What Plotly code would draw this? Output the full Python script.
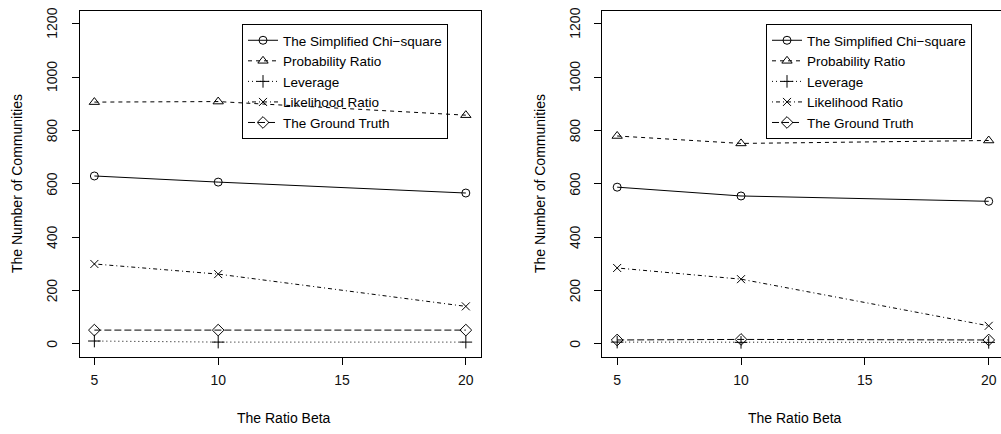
import plotly.graph_objects as go

# Ratio beta on the x axis
beta = [5, 10, 20]

series_names = [
    "The Simplified Chi\u2212square",
    "Probability Ratio",
    "Leverage",
    "Likelihood Ratio",
    "The Ground Truth",
]

# Left panel: number of communities per method
chi_left = [629, 606, 565]
prob_left = [906, 908, 857]
lev_left = [10, 6, 6]
lik_left = [299, 261, 140]
truth_left = [51, 51, 51]

# Right panel
chi_right = [587, 554, 534]
prob_right = [779, 751, 762]
lev_right = [6, 5, 5]
lik_right = [284, 242, 67]
truth_right = [14, 16, 14]

y_ticks = [0, 200, 400, 600, 800, 1000, 1200]
x_ticks = [5, 10, 15, 20]

# R-like line types and plotting symbols
dashes = ["solid", "4px,4px", "1px,3px", "1px,3px,4px,3px", "7px,3px"]
symbols = ["circle-open", "triangle-up-open", "cross-thin-open", "x-thin-open", "diamond-open"]
sizes = [8, 9, 9, 8, 9]

FONT = "Liberation Sans, Arial, sans-serif"
FS = 14
W, H = 1001, 434

fig = go.Figure()

panels = [
    ([chi_left, prob_left, lev_left, lik_left, truth_left], "x", "y", "legend"),
    ([chi_right, prob_right, lev_right, lik_right, truth_right], "x2", "y2", "legend2"),
]
for values, xa, ya, leg in panels:
    for name, vals, dash, sym, sz in zip(series_names, values, dashes, symbols, sizes):
        fig.add_trace(go.Scatter(
            x=beta, y=vals, name=name, mode="lines+markers",
            xaxis=xa, yaxis=ya, legend=leg,
            line=dict(color="black", width=1, dash=dash),
            marker=dict(symbol=sym, size=sz, color="black",
                        line=dict(color="black", width=1)),
        ))

def px_x(p):
    return p / W

def px_y(p):
    return 1 - p / H

y_dom = [px_y(356.5), px_y(10.9)]

axis_common = dict(
    showgrid=False, zeroline=False, showline=True, linecolor="black", linewidth=1,
    ticks="outside", ticklen=7, tickwidth=1, tickcolor="black",
)
x_tickfont = dict(family=FONT, size=FS, color="#111111")
legend_font = dict(family=FONT, size=13.5, color="black")

fig.update_layout(
    width=W, height=H,
    margin=dict(l=0, r=0, t=0, b=0),
    paper_bgcolor="white", plot_bgcolor="white",
    font=dict(family=FONT, color="black"),
    xaxis=dict(domain=[px_x(79.5), px_x(480.7)], range=[4.4, 20.6],
               tickvals=x_ticks, mirror=True, anchor="y", tickfont=x_tickfont,
               ticklabelstandoff=4, **axis_common),
    yaxis=dict(domain=y_dom, range=[-48, 1248], tickvals=y_ticks,
               showticklabels=False, mirror=True, anchor="x", **axis_common),
    xaxis2=dict(domain=[px_x(602.3), 1.0], range=[4.4, 20.496],
                tickvals=x_ticks, mirror=True, anchor="y2", tickfont=x_tickfont,
                ticklabelstandoff=4, **axis_common),
    yaxis2=dict(domain=y_dom, range=[-48, 1248], tickvals=y_ticks,
                showticklabels=False, anchor="x2", **axis_common),
    legend=dict(x=px_x(242), y=px_y(24), xanchor="left", yanchor="top",
                bgcolor="rgba(255,255,255,0)", bordercolor="black", borderwidth=1,
                font=legend_font, tracegroupgap=0, itemwidth=30),
    legend2=dict(x=px_x(766), y=px_y(24), xanchor="left", yanchor="top",
                 bgcolor="rgba(255,255,255,0)", bordercolor="black", borderwidth=1,
                 font=legend_font, tracegroupgap=0, itemwidth=30),
)

# Rotated y tick labels, placed on the y scale of each panel
for yref, cx in [("y", 52), ("y2", 575)]:
    for v in y_ticks:
        fig.add_annotation(text=str(v), x=px_x(cx), y=v, xref="paper", yref=yref,
                           showarrow=False, textangle=-90,
                           xanchor="center", yanchor="middle",
                           font=dict(family=FONT, size=FS, color="#111111"))

for cx in [284, 795]:
    fig.add_annotation(text="The Ratio Beta", x=px_x(cx), y=px_y(418),
                       xref="paper", yref="paper", showarrow=False,
                       xanchor="center", yanchor="middle",
                       font=dict(family=FONT, size=FS, color="black"))
for cx in [17, 540]:
    fig.add_annotation(text="The Number of Communities", x=px_x(cx), y=px_y(184),
                       xref="paper", yref="paper", showarrow=False, textangle=-90,
                       xanchor="center", yanchor="middle",
                       font=dict(family=FONT, size=FS, color="black"))

fig.write_html("out.html")
